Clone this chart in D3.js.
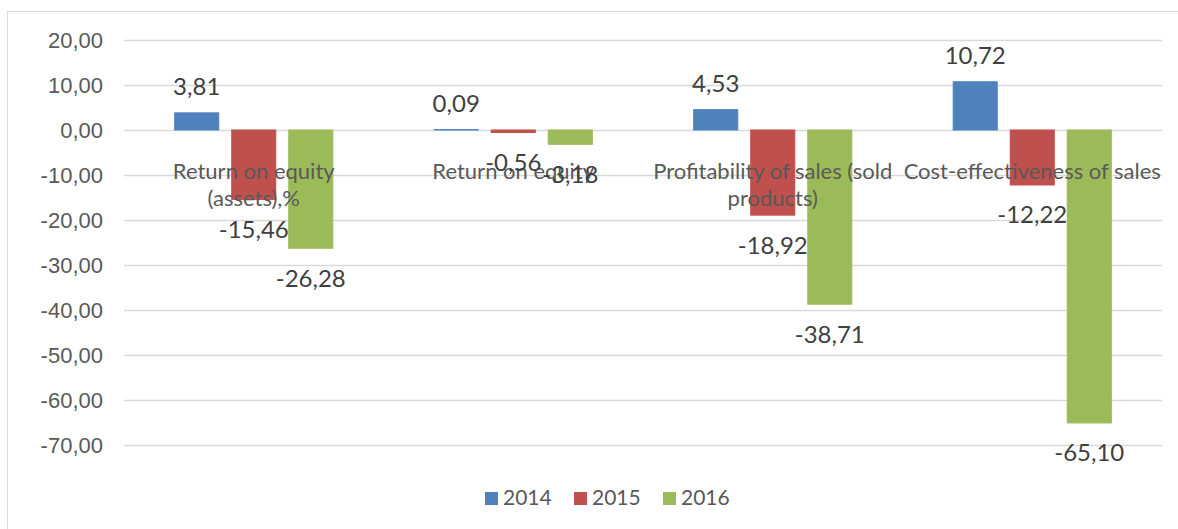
<!DOCTYPE html>
<html>
<head>
<meta charset="utf-8">
<script src="https://cdn.jsdelivr.net/npm/d3@7"></script>
<style>
  body { margin: 0; background: #fff; }
  svg { display: block; font-family: Lato, "Open Sans", sans-serif; }
</style>
</head>
<body>
<div id="chart"></div>
<script>
// chart data
const categories = ['Return on equity (assets),%', 'Return on equity', 'Profitability of sales (sold products)', 'Cost-effectiveness of sales'];
const categoryLines = [['Return on equity', '(assets),%'], ['Return on equity'], ['Profitability of sales (sold', 'products)'], ['Cost-effectiveness of sales']];
const years = ['2014', '2015', '2016'];
const values2014 = [3.81, 0.09, 4.53, 10.72];
const values2015 = [-15.46, -0.56, -18.92, -12.22];
const values2016 = [-26.28, -3.18, -38.71, -65.10];
const yTicks = [20, 10, 0, -10, -20, -30, -40, -50, -60, -70];
const colors = ['#4F81BD', '#C0504D', '#9BBB59'];

const width = 1178;
const height = 529;

const svg = d3.select('#chart')
  .append('svg')
  .attr('width', width)
  .attr('height', height);

// outer chart border (only top and left show in the picture)
svg.append('rect')
  .attr('x', 7.5)
  .attr('y', 11.5)
  .attr('width', width + 10)
  .attr('height', height + 10)
  .attr('fill', 'none')
  .attr('stroke', '#D9D9D9');

const locale = d3.formatLocale({ decimal: ',', thousands: ' ', grouping: [3], currency: ['', ''], minus: '-' });
const fmt = locale.format('.2f');

const x0 = d3.scaleBand().domain(categories).range([124, 1162]);
const x1 = d3.scaleBand().domain(years).range([0, x0.bandwidth()]).paddingInner(0.21).paddingOuter(0.88);
const y = d3.scaleLinear().domain([-70, 20]).range([445, 40]);

// gridlines + y labels
const yAxis = d3.axisLeft(y).tickValues(yTicks).tickSize(-(1162 - 124)).tickPadding(21).tickFormat(fmt);
const gy = svg.append('g').attr('transform', 'translate(124,0)').call(yAxis);
gy.select('.domain').remove();
gy.selectAll('.tick line').attr('stroke', '#D9D9D9').attr('stroke-width', 1.5);
gy.selectAll('.tick text')
  .attr('fill', '#595959')
  .attr('font-size', 22)
  .attr('dy', '0.35em');

const series = years.map((yr, i) => ({
  year: yr,
  color: colors[i],
  values: [values2014, values2015, values2016][i]
}));

// bars
const groups = svg.append('g').selectAll('g')
  .data(series)
  .join('g')
  .attr('fill', (d) => d.color)
  .attr('stroke', (d) => d.color)
  .attr('stroke-width', 1);

groups.selectAll('rect')
  .data((s) => s.values.map((v, j) => ({ v, cat: categories[j], year: s.year })))
  .join('rect')
  .attr('x', (d) => x0(d.cat) + x1(d.year) + 0.5)
  .attr('width', x1.bandwidth() - 1)
  .attr('y', (d) => Math.min(y(d.v), y(0)))
  .attr('height', (d) => Math.abs(y(d.v) - y(0)));

// category labels sit just under the zero line, over the bars
const catG = svg.append('g');
categories.forEach((c, j) => {
  const t = catG.append('text')
    .attr('x', x0(c) + x0.bandwidth() / 2)
    .attr('y', y(0) + 49)
    .attr('text-anchor', 'middle')
    .attr('fill', '#595959')
    .attr('font-size', 22);
  categoryLines[j].forEach((line, k) => {
    t.append('tspan')
      .attr('x', x0(c) + x0.bandwidth() / 2)
      .attr('dy', k === 0 ? 0 : 27)
      .text(line);
  });
});

// data labels
series.forEach((s) => {
  svg.append('g').selectAll('text')
    .data(s.values.map((v, j) => ({ v, cat: categories[j], year: s.year })))
    .join('text')
    .attr('x', (d) => x0(d.cat) + x1(d.year) + x1.bandwidth() / 2)
    .attr('y', (d) => (d.v >= 0 ? y(d.v) - 26 : y(d.v) + 30))
    .attr('dy', '0.35em')
    .attr('text-anchor', 'middle')
    .attr('fill', '#404040')
    .attr('font-size', 24)
    .text((d) => fmt(d.v));
});

// legend
const legend = svg.append('g').attr('transform', 'translate(485,498)');
const item = legend.selectAll('g')
  .data(series)
  .join('g')
  .attr('transform', (d, i) => `translate(${i * 89},0)`);
item.append('rect')
  .attr('x', 0)
  .attr('y', -6)
  .attr('width', 13)
  .attr('height', 13)
  .attr('fill', (d) => d.color);
item.append('text')
  .attr('x', 18)
  .attr('dy', '0.35em')
  .attr('fill', '#595959')
  .attr('font-size', 21)
  .text((d) => d.year);
</script>
</body>
</html>
